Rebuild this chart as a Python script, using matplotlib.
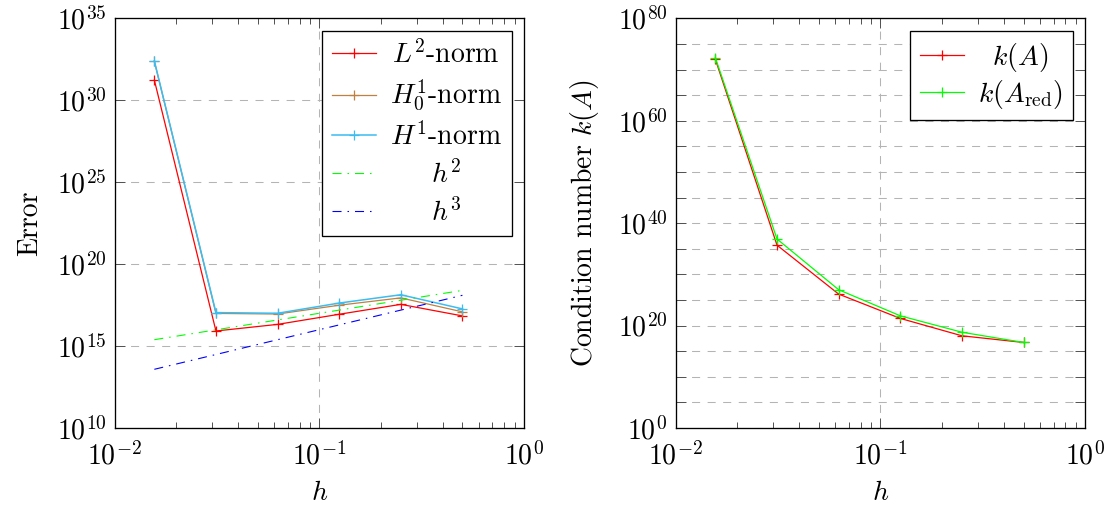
import math
import matplotlib
matplotlib.use("Agg")
import matplotlib.pyplot as plt
from matplotlib.ticker import FixedLocator, FuncFormatter, NullLocator, LogLocator, NullFormatter

plt.rcParams["font.family"] = "serif"
plt.rcParams["font.serif"] = ["cmr10"]
plt.rcParams["mathtext.fontset"] = "cm"
plt.rcParams["axes.formatter.use_mathtext"] = True
plt.rcParams["font.size"] = 20
plt.rcParams["lines.scale_dashes"] = False

# mesh sizes
h = [1/64, 1/32, 1/16, 1/8, 1/4, 1/2]

# errors
err_l2 = [1.7e31, 8.3e15, 2.1e16, 8.7e16, 3.5e17, 6.9e16]
err_h01 = [2.4e32, 9.8e16, 9.0e16, 3.1e17, 8.7e17, 1.22e17]
err_h1 = [2.5e32, 1.1e17, 1.0e17, 4.2e17, 1.35e18, 1.85e17]
ref_h2 = [2.44e15, 9.77e15, 3.91e16, 1.56e17, 6.25e17, 2.5e18]
ref_h3 = [3.81e13, 3.05e14, 2.44e15, 1.95e16, 1.56e17, 1.25e18]

# condition numbers
cond_a = [1e72, 5e35, 1.4e26, 2.5e21, 1e18, 5e16]
cond_a_red = [2e72, 8e36, 1e27, 8e21, 5e18, 5e16]

fig = plt.figure(figsize=(11.1, 5.08), dpi=100)
ax1 = fig.add_axes([0.1033, 0.1575, 0.3688, 0.8065])
ax2 = fig.add_axes([0.6087, 0.1575, 0.3690, 0.8065])

grid_kw = dict(color="#b4b4b4", linewidth=0.75, linestyle=(0, (5.8, 5.4)))
dashdot = (0, (6.5, 4.3, 1.1, 4.3))
mk = dict(marker="+", markersize=7.5, markeredgewidth=0.9)
leg_kw = dict(loc="upper right", fancybox=False, edgecolor="black",
              framealpha=1, handlelength=1.6, borderaxespad=0.45,
              borderpad=0.35, handletextpad=0.5)


def style_axis(ax):
    ax.set_xscale("log")
    ax.set_yscale("log")
    ax.set_xlim(1e-2, 1)
    ax.xaxis.set_major_locator(FixedLocator([1e-2, 1e-1, 1]))
    ax.xaxis.set_minor_locator(LogLocator(base=10, subs=range(2, 10)))
    ax.xaxis.set_minor_formatter(NullFormatter())
    ax.yaxis.set_minor_locator(NullLocator())
    ax.tick_params(which="both", direction="in", top=True, right=True,
                   color="#505050", width=0.7)
    ax.tick_params(which="major", length=7.2, pad=6)
    ax.tick_params(axis="x", which="major", pad=9.5)
    ax.tick_params(which="minor", length=4.6)
    for s in ax.spines.values():
        s.set_linewidth(0.95)
    ax.grid(True, which="major", **grid_kw)
    ax.set_axisbelow(True)
    ax.set_xlabel("$h$", labelpad=7)


def center_legend_text(leg):
    fig.canvas.draw()
    r = fig.canvas.get_renderer()
    texts = leg.get_texts()
    widths = [t.get_window_extent(r).width for t in texts]
    wmax = max(widths)
    for t, w in zip(texts, widths):
        t.set_x((wmax - w) / 2)


# left: errors
style_axis(ax1)
ax1.set_ylim(1e10, 1e35)
ax1.yaxis.set_major_locator(FixedLocator([10.0**k for k in range(10, 36, 5)]))
ax1.plot(h, err_l2, color="#ff0000", lw=0.9, label="$L^2$-norm", **mk)
ax1.plot(h, err_h01, color="#bf8040", lw=0.9, label="$H^1_0$-norm", **mk)
ax1.plot(h, err_h1, color="#3cbcf0", lw=1.1, label="$H^1$-norm", **mk)
ax1.plot(h, ref_h2, color="#00ff00", lw=0.8, linestyle=dashdot, label="$h^2$")
ax1.plot(h, ref_h3, color="#0000ff", lw=0.8, linestyle=dashdot, label="$h^3$")
ax1.set_ylabel("Error", labelpad=10)
leg1 = ax1.legend(labelspacing=0.33, **leg_kw)
leg1.get_frame().set_linewidth(0.95)

# right: condition numbers
style_axis(ax2)
ax2.set_ylim(1, 1e80)
ax2.yaxis.set_major_locator(FixedLocator([10.0**k for k in range(0, 81, 5)]))


def every_twenty(v, pos):
    e = round(math.log10(v))
    return "$10^{%d}$" % e if e % 20 == 0 else ""


ax2.yaxis.set_major_formatter(FuncFormatter(every_twenty))
ax2.plot(h, cond_a, color="#ff0000", lw=0.9, label="$k(A)$", **mk)
ax2.plot(h, cond_a_red, color="#00ff00", lw=0.9, label=r"$k(A_{\mathrm{red}})$", **mk)
ax2.set_ylabel("Condition number $k(A)$", labelpad=12)
leg2 = ax2.legend(labelspacing=0.15, **leg_kw)
leg2.get_frame().set_linewidth(0.95)

center_legend_text(leg1)
center_legend_text(leg2)

fig.savefig("out.png", dpi=100)
